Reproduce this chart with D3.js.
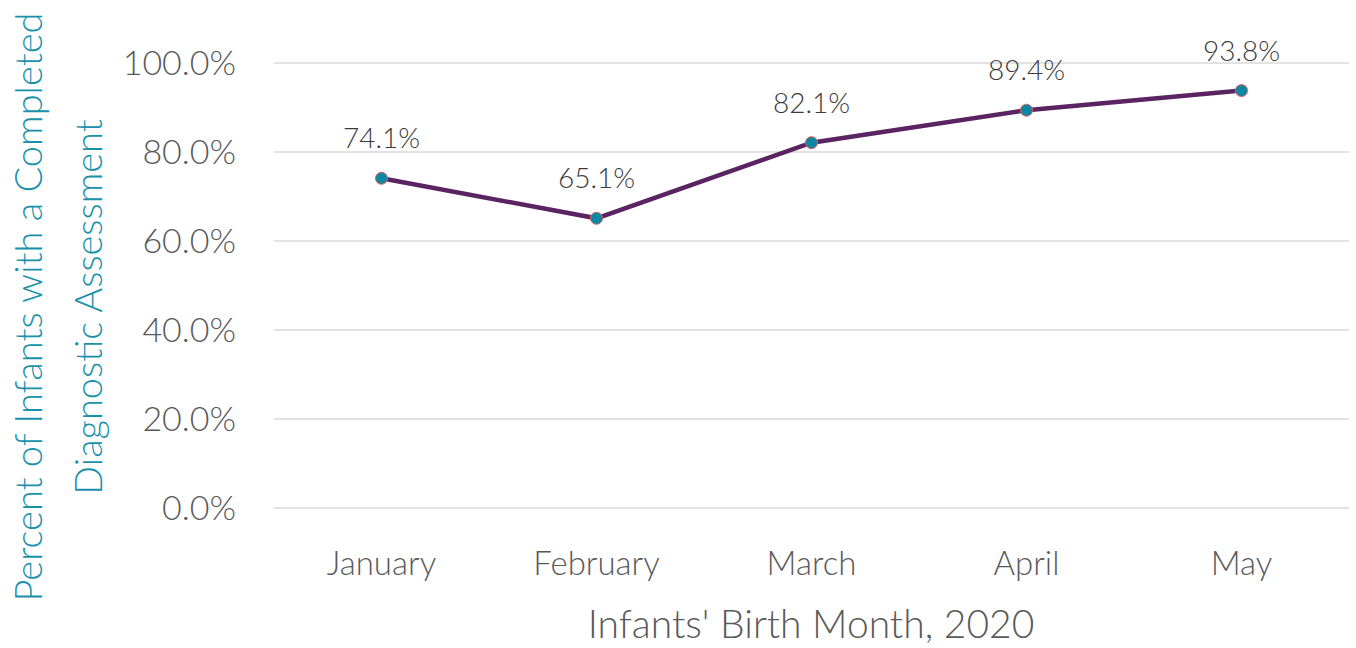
<!DOCTYPE html>
<html>
<head>
<meta charset="utf-8">
<script src="https://cdn.jsdelivr.net/npm/d3@7"></script>
<style>
  body { margin: 0; background: #fff; }
  svg { display: block; font-family: Lato, "Open Sans", sans-serif; }
</style>
</head>
<body>
<div id="chart"></div>
<script>
const months = ["January", "February", "March", "April", "May"];
const percents = [74.1, 65.1, 82.1, 89.4, 93.8];
const yTicks = [0, 20, 40, 60, 80, 100];

const width = 1356, height = 648;

const svg = d3.select("#chart").append("svg")
    .attr("width", width)
    .attr("height", height);

const x = d3.scaleBand()
    .domain(months)
    .range([274, 1349]);

const y = d3.scaleLinear()
    .domain([0, 100])
    .range([508, 63]);

// gridlines
svg.append("g")
    .attr("stroke", "#d9d9d9")
    .attr("stroke-width", 1.5)
  .selectAll("line")
  .data(yTicks)
  .join("line")
    .attr("x1", 274)
    .attr("x2", 1349)
    .attr("y1", d => y(d))
    .attr("y2", d => y(d));

// y tick labels
svg.append("g")
    .attr("font-size", 34)
    .attr("font-weight", 300)
    .attr("fill", "#595959")
    .attr("text-anchor", "end")
  .selectAll("text")
  .data(yTicks)
  .join("text")
    .attr("x", 236)
    .attr("y", d => y(d))
    .attr("dy", "0.35em")
    .text(d => d.toFixed(1) + "%");

// x tick labels
svg.append("g")
    .attr("font-size", 33)
    .attr("font-weight", 300)
    .attr("fill", "#595959")
    .attr("text-anchor", "middle")
  .selectAll("text")
  .data(months)
  .join("text")
    .attr("x", d => x(d) + x.bandwidth() / 2)
    .attr("y", 575)
    .text(d => d);

// axis titles
svg.append("text")
    .attr("x", 811)
    .attr("y", 638)
    .attr("text-anchor", "middle")
    .attr("font-size", 39)
    .attr("font-weight", 300)
    .attr("fill", "#595959")
    .text("Infants' Birth Month, 2020");

const yt = svg.append("text")
    .attr("transform", "translate(0,307) rotate(-90)")
    .attr("text-anchor", "middle")
    .attr("font-size", 38)
    .attr("font-weight", 300)
    .attr("fill", "#1a91ab");
yt.append("tspan").attr("x", 0).attr("y", 42).text("Percent of Infants with a Completed");
yt.append("tspan").attr("x", 0).attr("y", 102).text("Diagnostic Assessment");

// line
const pts = months.map((m, i) => ({m, v: percents[i]}));

svg.append("path")
    .datum(pts)
    .attr("fill", "none")
    .attr("stroke", "#5a2462")
    .attr("stroke-width", 4.5)
    .attr("d", d3.line()
        .x(d => x(d.m) + x.bandwidth() / 2)
        .y(d => y(d.v)));

svg.append("g")
  .selectAll("circle")
  .data(pts)
  .join("circle")
    .attr("cx", d => x(d.m) + x.bandwidth() / 2)
    .attr("cy", d => y(d.v))
    .attr("r", 6)
    .attr("fill", "#0a88a3")
    .attr("stroke", "#e0605a")
    .attr("stroke-width", 1);

// data labels
svg.append("g")
    .attr("font-size", 28)
    .attr("font-weight", 300)
    .attr("fill", "#3a3a3a")
    .attr("text-anchor", "middle")
  .selectAll("text")
  .data(pts)
  .join("text")
    .attr("x", d => x(d.m) + x.bandwidth() / 2)
    .attr("y", d => y(d.v) - 30)
    .text(d => d.v.toFixed(1) + "%");
</script>
</body>
</html>
